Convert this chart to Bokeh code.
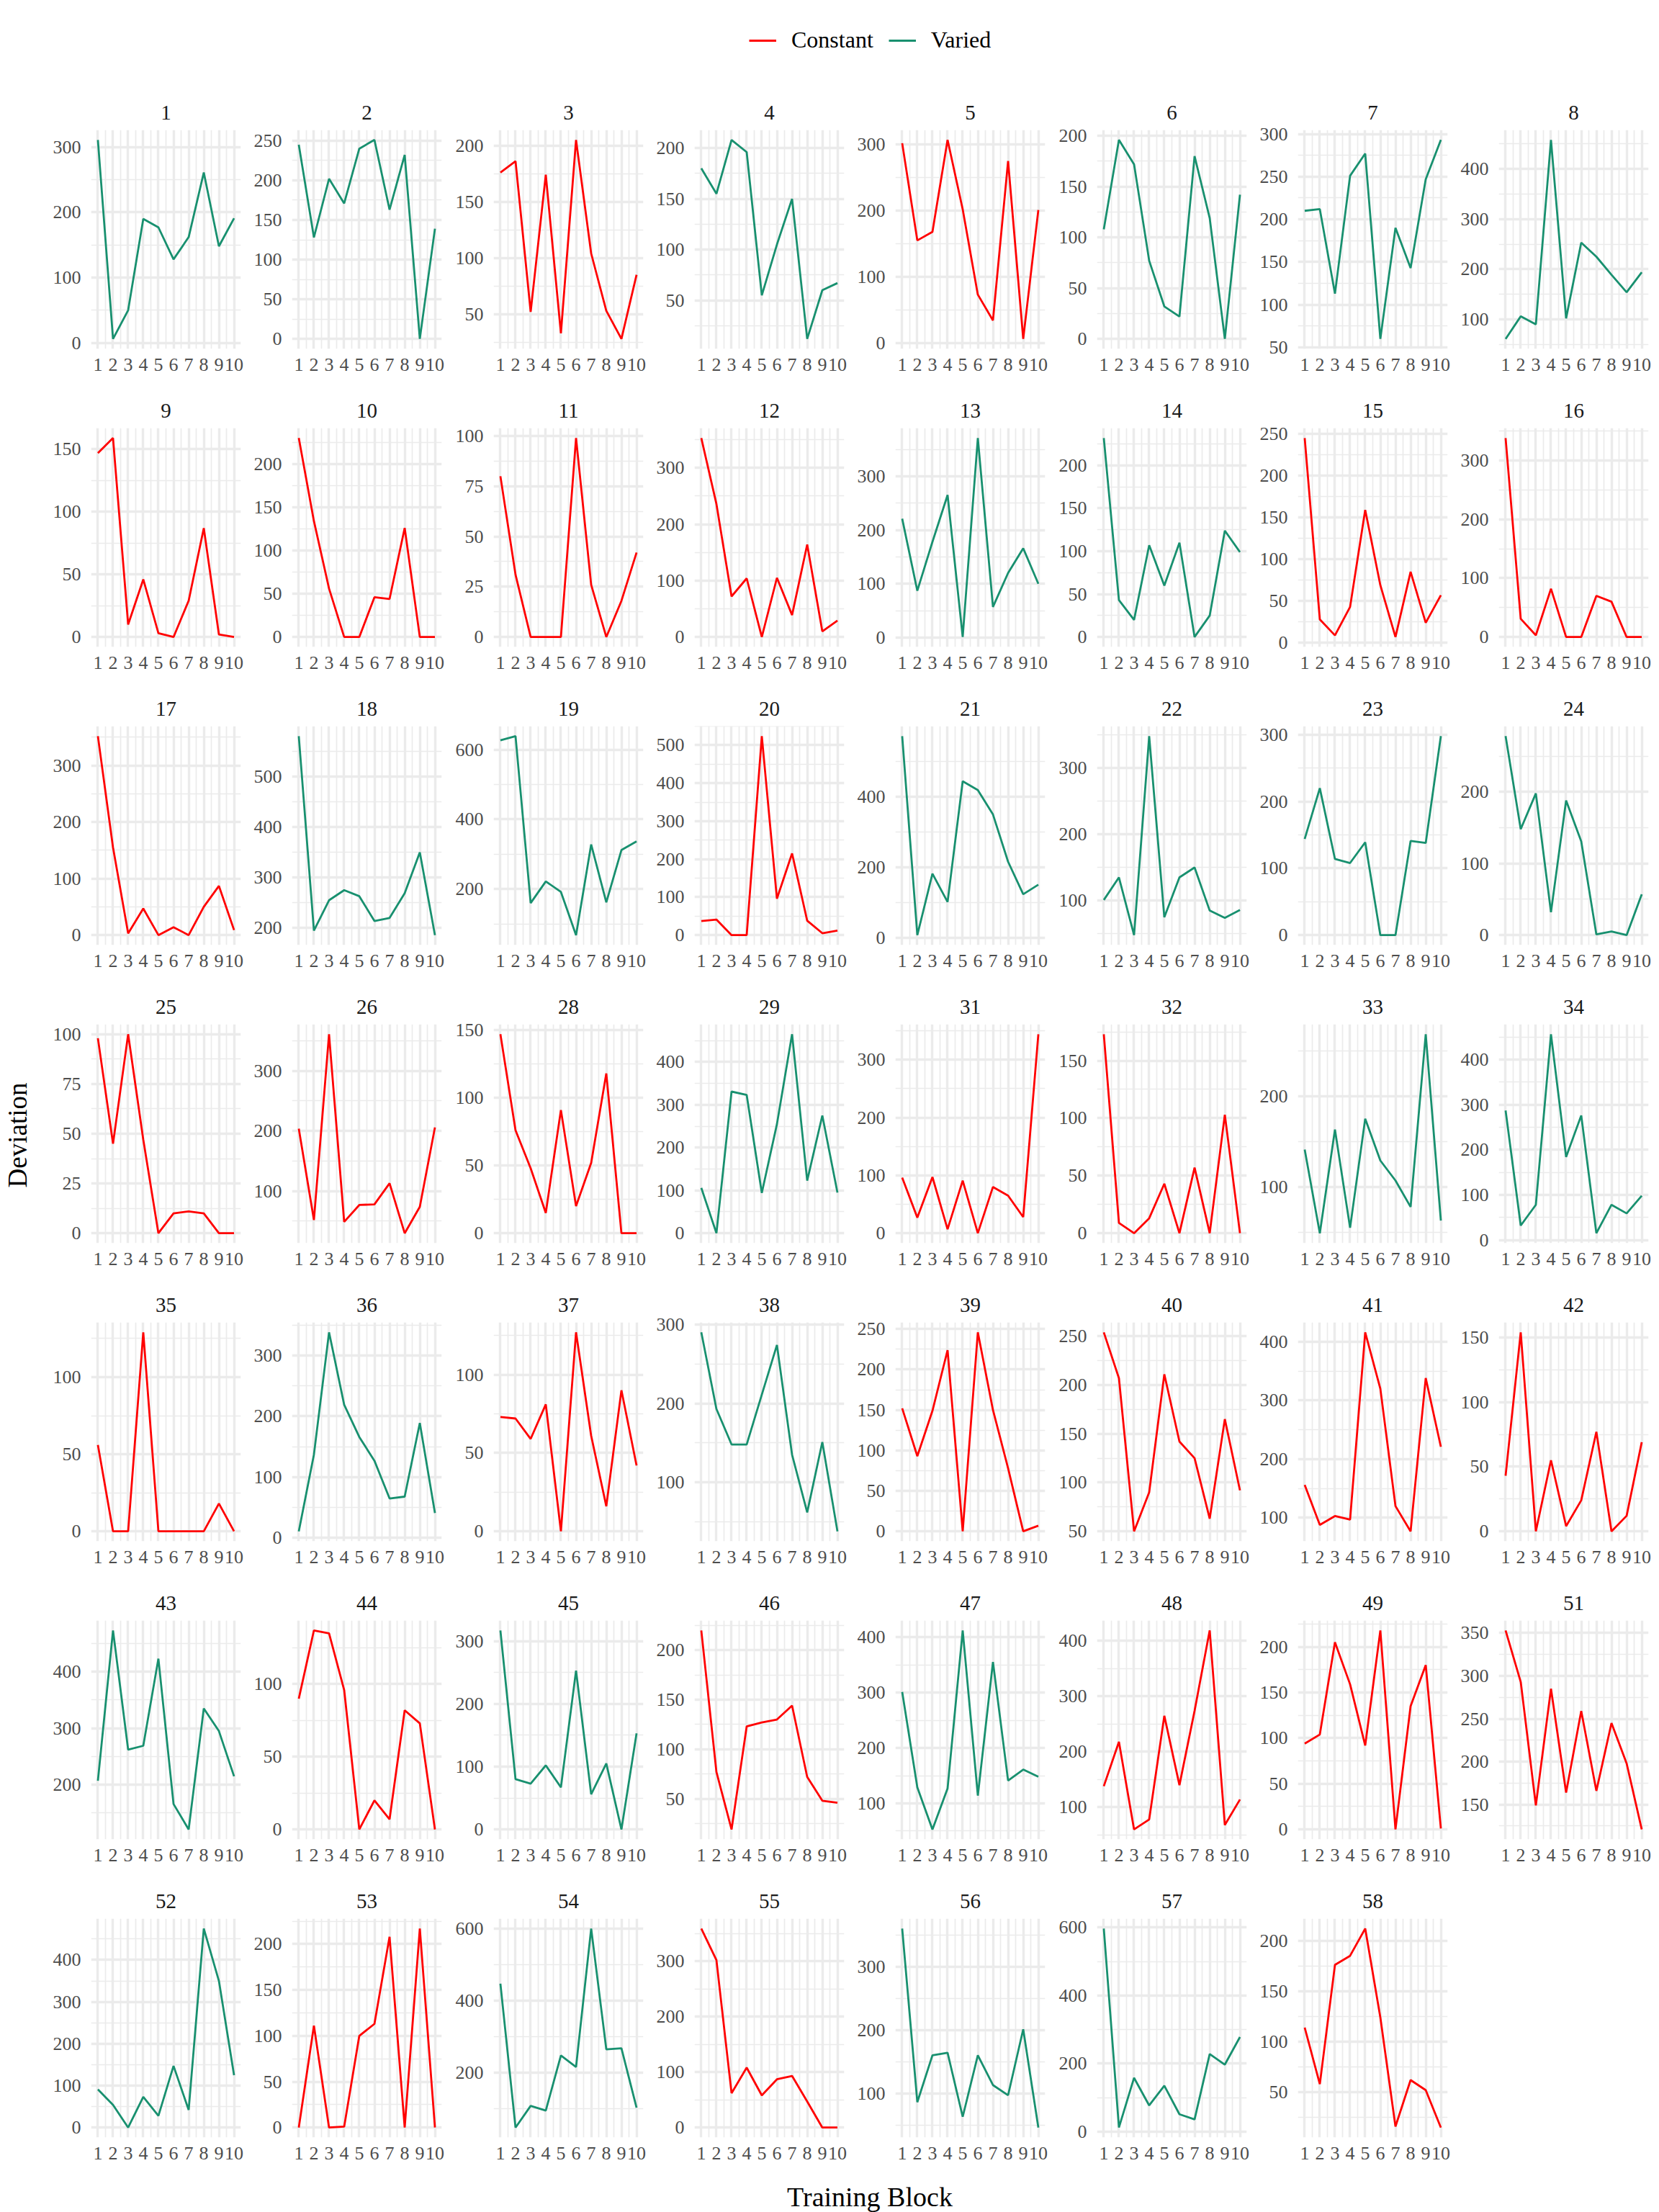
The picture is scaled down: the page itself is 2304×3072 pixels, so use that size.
import math
from bokeh.plotting import figure
from bokeh.layouts import gridplot, column, row
from bokeh.models import ColumnDataSource, Range1d, FixedTicker, Legend, LegendItem, Label
from bokeh.embed import file_html
from bokeh.resources import INLINE

# ---------------- data ----------------
blocks = [1, 2, 3, 4, 5, 6, 7, 8, 9, 10]

subjects = [1, 2, 3, 4, 5, 6, 7, 8,
            9, 10, 11, 12, 13, 14, 15, 16,
            17, 18, 19, 20, 21, 22, 23, 24,
            25, 26, 28, 29, 31, 32, 33, 34,
            35, 36, 37, 38, 39, 40, 41, 42,
            43, 44, 45, 46, 47, 48, 49, 51,
            52, 53, 54, 55, 56, 57, 58]

conditions = ["Varied", "Varied", "Constant", "Varied", "Constant", "Varied", "Varied", "Varied",
              "Constant", "Constant", "Constant", "Constant", "Varied", "Varied", "Constant", "Constant",
              "Constant", "Varied", "Varied", "Constant", "Varied", "Varied", "Varied", "Varied",
              "Constant", "Constant", "Constant", "Varied", "Constant", "Constant", "Varied", "Varied",
              "Constant", "Varied", "Constant", "Varied", "Constant", "Constant", "Constant", "Constant",
              "Varied", "Constant", "Varied", "Constant", "Varied", "Constant", "Constant", "Constant",
              "Varied", "Constant", "Varied", "Constant", "Varied", "Varied", "Constant"]

deviation = [
    [311, 6, 50, 190, 177, 128, 162, 261, 148, 191],      # 1
    [245, 128, 202, 171, 240, 251, 163, 232, 0, 139],     # 2
    [176, 186, 52, 174, 33, 205, 104, 53, 28, 85],        # 3
    [180, 155, 208, 196, 55, 105, 150, 12, 60, 67],       # 4
    [302, 155, 168, 307, 202, 73, 34, 275, 6, 201],       # 5
    [108, 196, 172, 77, 32, 22, 180, 119, 0, 142],        # 6
    [210, 212, 113, 251, 277, 60, 190, 143, 247, 293],    # 7
    [61, 106, 90, 458, 102, 253, 225, 189, 154, 194],     # 8
    [147, 159, 10, 46, 3, 0, 29, 87, 2, 0],               # 9
    [230, 134, 56, 0, 0, 46, 44, 126, 0, 0],              # 10
    [80, 31, 0, 0, 0, 99, 26, 0, 18, 42],                 # 11
    [353, 236, 72, 104, 0, 105, 39, 164, 10, 29],         # 12
    [221, 87, 178, 265, 1, 371, 57, 120, 166, 100],       # 13
    [232, 43, 20, 107, 60, 110, 0, 25, 124, 99],          # 14
    [245, 28, 9, 43, 159, 69, 7, 85, 24, 57],             # 15
    [338, 31, 3, 82, 0, 0, 70, 60, 0, 0],                 # 16
    [352, 155, 3, 47, 0, 14, 0, 50, 87, 9],               # 17
    [580, 195, 255, 275, 263, 214, 220, 269, 350, 186],   # 18
    [627, 639, 160, 222, 192, 68, 328, 162, 312, 337],    # 19
    [37, 41, 0, 0, 524, 96, 215, 38, 5, 12],              # 20
    [571, 7, 181, 101, 443, 418, 349, 215, 123, 150],     # 21
    [101, 135, 48, 348, 75, 135, 150, 85, 74, 86],        # 22
    [144, 220, 114, 108, 139, 0, 0, 141, 138, 298],       # 23
    [278, 148, 198, 32, 188, 131, 1, 5, 0, 57],           # 24
    [98, 45, 100, 47, 0, 10, 11, 10, 0, 0],               # 25
    [204, 52, 361, 49, 77, 78, 113, 30, 74, 206],         # 26
    [147, 76, 48, 15, 91, 20, 52, 118, 0, 0],             # 28
    [106, 0, 331, 323, 94, 255, 465, 123, 275, 95],       # 29
    [96, 27, 97, 7, 91, 0, 80, 65, 28, 344],              # 31
    [173, 9, 0, 13, 43, 0, 57, 0, 103, 0],                # 32
    [141, 49, 163, 55, 175, 129, 107, 78, 268, 63],       # 33
    [287, 32, 78, 456, 184, 276, 15, 78, 59, 98],         # 34
    [56, 0, 0, 129, 0, 0, 0, 0, 18, 0],                   # 35
    [11, 137, 338, 219, 166, 127, 65, 68, 189, 41],       # 36
    [73, 72, 59, 81, 0, 127, 61, 16, 90, 42],             # 37
    [290, 193, 148, 148, 211, 274, 135, 62, 151, 38],     # 38
    [152, 93, 149, 224, 0, 246, 150, 78, 0, 7],           # 39
    [254, 207, 50, 90, 211, 142, 125, 63, 165, 92],       # 40
    [156, 88, 103, 97, 416, 320, 120, 77, 338, 221],      # 41
    [43, 154, 0, 55, 4, 24, 77, 0, 12, 69],               # 42
    [207, 473, 262, 269, 423, 166, 121, 335, 295, 215],   # 43
    [90, 137, 135, 96, 0, 20, 7, 82, 73, 0],              # 44
    [317, 80, 73, 102, 67, 253, 56, 105, 0, 153],         # 45
    [220, 77, 19, 123, 127, 130, 144, 72, 48, 46],        # 46
    [301, 129, 53, 127, 412, 114, 355, 141, 161, 148],    # 47
    [138, 218, 60, 78, 265, 140, 274, 419, 68, 114],      # 48
    [94, 104, 205, 159, 92, 218, 0, 135, 180, 1],         # 49
    [353, 293, 149, 285, 164, 259, 166, 245, 198, 121],   # 51
    [91, 54, 0, 73, 28, 147, 42, 475, 350, 125],          # 52
    [0, 111, 0, 1, 100, 113, 208, 0, 217, 0],             # 53
    [447, 48, 108, 95, 248, 216, 600, 265, 268, 103],     # 54
    [359, 302, 62, 108, 58, 87, 93, 47, 0, 0],            # 55
    [360, 86, 160, 164, 63, 160, 113, 97, 201, 46],       # 56
    [597, 12, 158, 77, 135, 51, 36, 228, 197, 278],       # 57
    [114, 58, 176, 185, 212, 124, 16, 62, 52, 15],        # 58
]

condition_names = ["Constant", "Varied"]
condition_colors = ["#FF0000", "#18906F"]

x_title = "Training Block"
y_title = "Deviation"

# ---------------- ggplot-like break computation ----------------
def _simplicity(q, Q, j, lmin, lmax, lstep):
    eps = 2.220446e-16 * 100
    n = len(Q)
    i = Q.index(q) + 1
    rem = lmin % lstep
    v = 1 if ((rem < eps or lstep - rem < eps) and lmin <= 0 and lmax >= 0) else 0
    return 1 - (i - 1) / (n - 1) - j + v


def _simplicity_max(q, Q, j):
    n = len(Q)
    i = Q.index(q) + 1
    return 1 - (i - 1) / (n - 1) - j + 1


def _coverage(dmin, dmax, lmin, lmax):
    rng = dmax - dmin
    return 1 - 0.5 * ((dmax - lmax) ** 2 + (dmin - lmin) ** 2) / ((0.1 * rng) ** 2)


def _coverage_max(dmin, dmax, span):
    rng = dmax - dmin
    if span > rng:
        half = (span - rng) / 2
        return 1 - 0.5 * (2 * half ** 2) / ((0.1 * rng) ** 2)
    return 1


def _density(k, m, dmin, dmax, lmin, lmax):
    r = (k - 1) / (lmax - lmin)
    rt = (m - 1) / (max(lmax, dmax) - min(dmin, lmin))
    return 2 - max(r / rt, rt / r)


def _density_max(k, m):
    return 2 - (k - 1) / (m - 1) if k >= m else 1


def extended(dmin, dmax, m=5):
    Q = [1, 5, 2, 2.5, 4, 3]
    w = [0.25, 0.2, 0.5, 0.05]
    best = None
    best_score = -2.0
    j = 1
    done = False
    while not done:
        for q in Q:
            sm = _simplicity_max(q, Q, j)
            if w[0] * sm + w[1] + w[2] + w[3] < best_score:
                done = True
                break
            k = 2
            while True:
                dm = _density_max(k, m)
                if w[0] * sm + w[1] + w[2] * dm + w[3] < best_score:
                    break
                delta = (dmax - dmin) / (k + 1) / j / q
                z = math.ceil(math.log10(delta))
                while True:
                    step = j * q * 10.0 ** z
                    cm = _coverage_max(dmin, dmax, step * (k - 1))
                    if w[0] * sm + w[1] * cm + w[2] * dm + w[3] < best_score:
                        break
                    min_start = math.floor(dmax / step) * j - (k - 1) * j
                    max_start = math.ceil(dmin / step) * j
                    if min_start > max_start:
                        z += 1
                        continue
                    for start in range(min_start, max_start + 1):
                        lmin = start * (step / j)
                        lmax = lmin + step * (k - 1)
                        s = _simplicity(q, Q, j, lmin, lmax, step)
                        c = _coverage(dmin, dmax, lmin, lmax)
                        g = _density(k, m, dmin, dmax, lmin, lmax)
                        score = w[0] * s + w[1] * c + w[2] * g + w[3]
                        if score > best_score:
                            best_score = score
                            best = (lmin, lmax, step)
                    z += 1
                k += 1
        j += 1
    lmin, lmax, step = best
    n = int(round((lmax - lmin) / step))
    return [round(lmin + i * step, 10) for i in range(n + 1)]


def scale_breaks(vals):
    lo, hi = min(vals), max(vals)
    span = hi - lo if hi > lo else 1.0
    lo_e, hi_e = lo - 0.05 * span, hi + 0.05 * span
    br = extended(lo_e, hi_e, 5)
    major = [b for b in br if lo_e - 1e-9 <= b <= hi_e + 1e-9]
    bd = br[1] - br[0]
    ext = list(br)
    if lo_e < min(ext):
        ext = [ext[0] - bd] + ext
    if hi_e > max(ext):
        ext = ext + [ext[-1] + bd]
    minor = [(a + b) / 2 for a, b in zip(ext[:-1], ext[1:])]
    minor = [mb for mb in minor if lo_e <= mb <= hi_e]
    return lo_e, hi_e, major, minor


# ---------------- layout constants ----------------
FONT = "Liberation Serif"
GRID_COLOR = "#EBEBEB"
NCOL = 8
FRAME_W, FRAME_H = 208, 304
panel_left = [126, 405, 685, 964, 1243, 1523, 1802, 2081]
PAGE_W, PAGE_H = 2304, 3072
GRID_X0 = 60
BL, BT, BB = 66, 54, 56
cell_start = [pl - BL for pl in panel_left]
cell_end = cell_start[1:] + [PAGE_W]
border_right = [ce - cs - BL - FRAME_W for cs, ce in zip(cell_start, cell_end)]

xs_lo = min(blocks) - 0.05 * (max(blocks) - min(blocks))
xs_hi = max(blocks) + 0.05 * (max(blocks) - min(blocks))
x_minor = [(a + b) / 2 for a, b in zip(blocks[:-1], blocks[1:])]

panels = []
for idx, (sid, cond, vals) in enumerate(zip(subjects, conditions, deviation)):
    col = idx % NCOL
    lo, hi, major, minor = scale_breaks(vals)
    p = figure(frame_width=FRAME_W, frame_height=FRAME_H,
               x_range=Range1d(xs_lo, xs_hi), y_range=Range1d(lo, hi),
               toolbar_location=None, output_backend="svg",
               min_border_left=BL, min_border_right=border_right[col],
               min_border_top=BT, min_border_bottom=BB,
               title=str(sid))
    p.title.align = "center"
    p.title.text_font = FONT
    p.title.text_font_size = "29px"
    p.title.text_font_style = "normal"
    p.title.text_color = "#1A1A1A"
    p.title.standoff = 30
    p.outline_line_color = None
    p.background_fill_color = "white"
    p.border_fill_color = "white"

    p.xaxis.ticker = FixedTicker(ticks=blocks, minor_ticks=x_minor)
    p.yaxis.ticker = FixedTicker(ticks=major, minor_ticks=minor)
    for ax in (p.xaxis, p.yaxis):
        ax.axis_line_color = None
        ax.major_tick_line_color = None
        ax.minor_tick_line_color = None
        ax.major_tick_out = 0
        ax.major_tick_in = 0
        ax.minor_tick_out = 0
        ax.minor_tick_in = 0
        ax.major_label_text_font = FONT
        ax.major_label_text_font_size = "26px"
        ax.major_label_text_color = "#4D4D4D"
    p.xaxis.major_label_standoff = 13
    p.yaxis.major_label_standoff = 14
    for g in (p.xgrid, p.ygrid):
        g.grid_line_color = GRID_COLOR
        g.grid_line_width = 3.4
        g.minor_grid_line_color = GRID_COLOR
        g.minor_grid_line_width = 1.7

    color = condition_colors[condition_names.index(cond)]
    src = ColumnDataSource(dict(block=blocks, deviation=vals))
    p.line(x="block", y="deviation", source=src, line_color=color, line_width=2.8)
    panels.append(p)

rows = []
for r in range(0, len(panels), NCOL):
    rw = panels[r:r + NCOL]
    rw = rw + [None] * (NCOL - len(rw))
    rows.append(rw)

grid = gridplot(rows, toolbar_location=None)
n_rows = len(rows)
GRID_H = n_rows * (BT + FRAME_H + BB)


def blank_fig(w, h, xr, yr):
    f = figure(width=w, height=h, toolbar_location=None, output_backend="svg",
               x_range=Range1d(*xr), y_range=Range1d(*yr),
               x_axis_location=None, y_axis_location=None,
               min_border=0, min_border_left=0, min_border_right=0,
               min_border_top=0, min_border_bottom=0)
    f.outline_line_color = None
    f.xgrid.visible = False
    f.ygrid.visible = False
    return f


# ---------------- legend strip ----------------
LEG_H = 126
leg = blank_fig(PAGE_W, LEG_H, (0, 1), (0, 1))
items = []
for name, colr in zip(condition_names, condition_colors):
    proxy = ColumnDataSource(dict(x=[float("nan")], y=[float("nan")]))
    rr = leg.line(x="x", y="y", source=proxy, line_color=colr, line_width=3.2)
    items.append(LegendItem(label=name, renderers=[rr]))
legend = Legend(items=items, orientation="horizontal", location=(1040, 52),
                glyph_width=38, glyph_height=20, label_standoff=21, spacing=21,
                padding=0, margin=0, border_line_color=None, background_fill_alpha=0,
                label_text_font=FONT, label_text_font_size="32px", label_text_color="black")
leg.add_layout(legend)

# ---------------- y title strip ----------------
DEV_W = GRID_X0
dev = blank_fig(DEV_W, GRID_H, (0, DEV_W), (0, GRID_H))
dev.add_layout(Label(x=24, y=GRID_H / 2 - 1, text=y_title, angle=math.pi / 2,
                     text_align="center", text_baseline="middle",
                     text_font=FONT, text_font_size="37px", text_color="black"))

# ---------------- x title strip ----------------
XT_H = PAGE_H - LEG_H - GRID_H
xt = blank_fig(PAGE_W, XT_H, (0, PAGE_W), (0, XT_H))
xt.add_layout(Label(x=(panel_left[0] + panel_left[-1] + FRAME_W) / 2, y=22, text=x_title,
                    text_align="center", text_baseline="middle",
                    text_font=FONT, text_font_size="38px", text_color="black"))

layout = column(leg, row(dev, grid), xt)

open("out.html", "w").write(file_html(layout, INLINE))
